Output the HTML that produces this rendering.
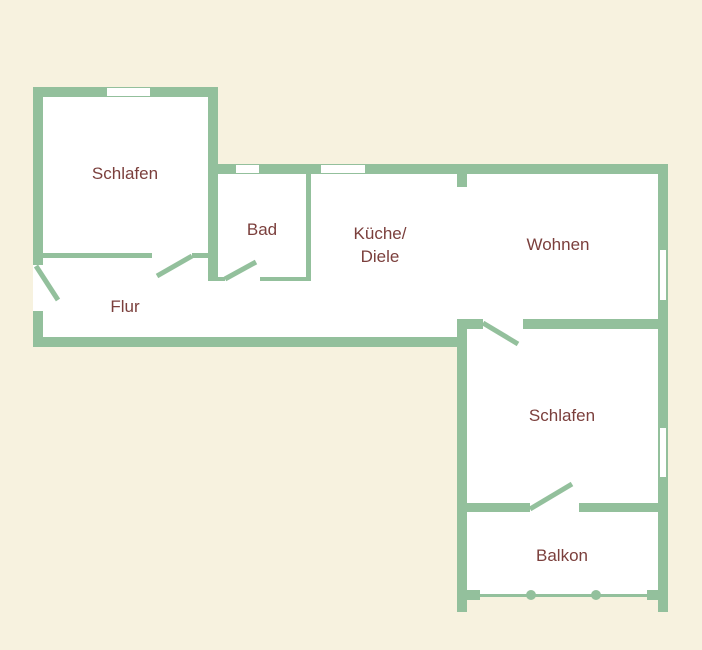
<!DOCTYPE html>
<html><head><style>body{margin:0;background:#f7f2df}svg{display:block}text{font-family:"Liberation Sans",sans-serif;font-size:17px;fill:#7b3f3c;text-anchor:middle}</style></head><body>
<svg width="702" height="650" viewBox="0 0 702 650">
<rect width="702" height="650" fill="#f7f2df"/>
<g fill="#fff">
<rect x="33" y="87" width="185" height="260"/>
<rect x="208" y="164" width="460" height="183"/>
<rect x="457" y="164" width="211" height="431"/>
</g>
<g fill="#93c09c">
<rect x="33" y="87" width="185" height="10"/>
<rect x="33" y="87" width="10" height="178"/>
<rect x="33" y="311" width="10" height="36"/>
<rect x="208" y="87" width="10" height="194"/>
<rect x="43" y="253" width="109" height="5"/>
<rect x="192" y="253" width="16" height="5"/>
<rect x="33" y="337" width="434" height="10"/>
<rect x="218" y="164" width="450" height="10"/>
<rect x="306" y="174" width="5" height="107"/>
<rect x="260" y="277" width="51" height="4"/>
<rect x="208" y="277" width="17" height="4"/>
<rect x="457" y="174" width="10" height="13"/>
<rect x="658" y="164" width="10" height="448"/>
<rect x="523" y="319" width="135" height="10"/>
<rect x="457" y="319" width="10" height="293"/>
<rect x="457" y="319" width="26" height="10"/>
<rect x="467" y="503" width="63" height="9"/>
<rect x="579" y="503" width="79" height="9"/>
<rect x="467" y="590" width="13" height="10"/>
<rect x="647" y="590" width="11" height="10"/>
<rect x="480" y="594" width="167" height="3"/>
<circle cx="531" cy="595" r="5"/>
<circle cx="596" cy="595" r="5"/>
</g>
<g fill="#fff">
<rect x="107" y="88" width="43" height="8"/>
<rect x="236" y="165" width="23" height="8"/>
<rect x="321" y="165" width="44" height="8"/>
<rect x="660" y="250" width="6" height="50"/>
<rect x="660" y="428" width="6" height="49"/>
</g>
<g stroke="#93c09c" stroke-width="5" fill="none">
<line x1="36" y1="266" x2="58" y2="300"/>
<line x1="157" y1="276" x2="192" y2="256"/>
<line x1="225" y1="279" x2="256" y2="262"/>
<line x1="483" y1="323" x2="518" y2="344"/>
<line x1="530" y1="509" x2="572" y2="484"/>
</g>
<text x="125" y="179">Schlafen</text>
<text x="262" y="235">Bad</text>
<text x="380" y="239">Küche/</text>
<text x="380" y="262">Diele</text>
<text x="558" y="250">Wohnen</text>
<text x="125" y="312">Flur</text>
<text x="562" y="421">Schlafen</text>
<text x="562" y="561">Balkon</text>
</svg>
</body></html>
